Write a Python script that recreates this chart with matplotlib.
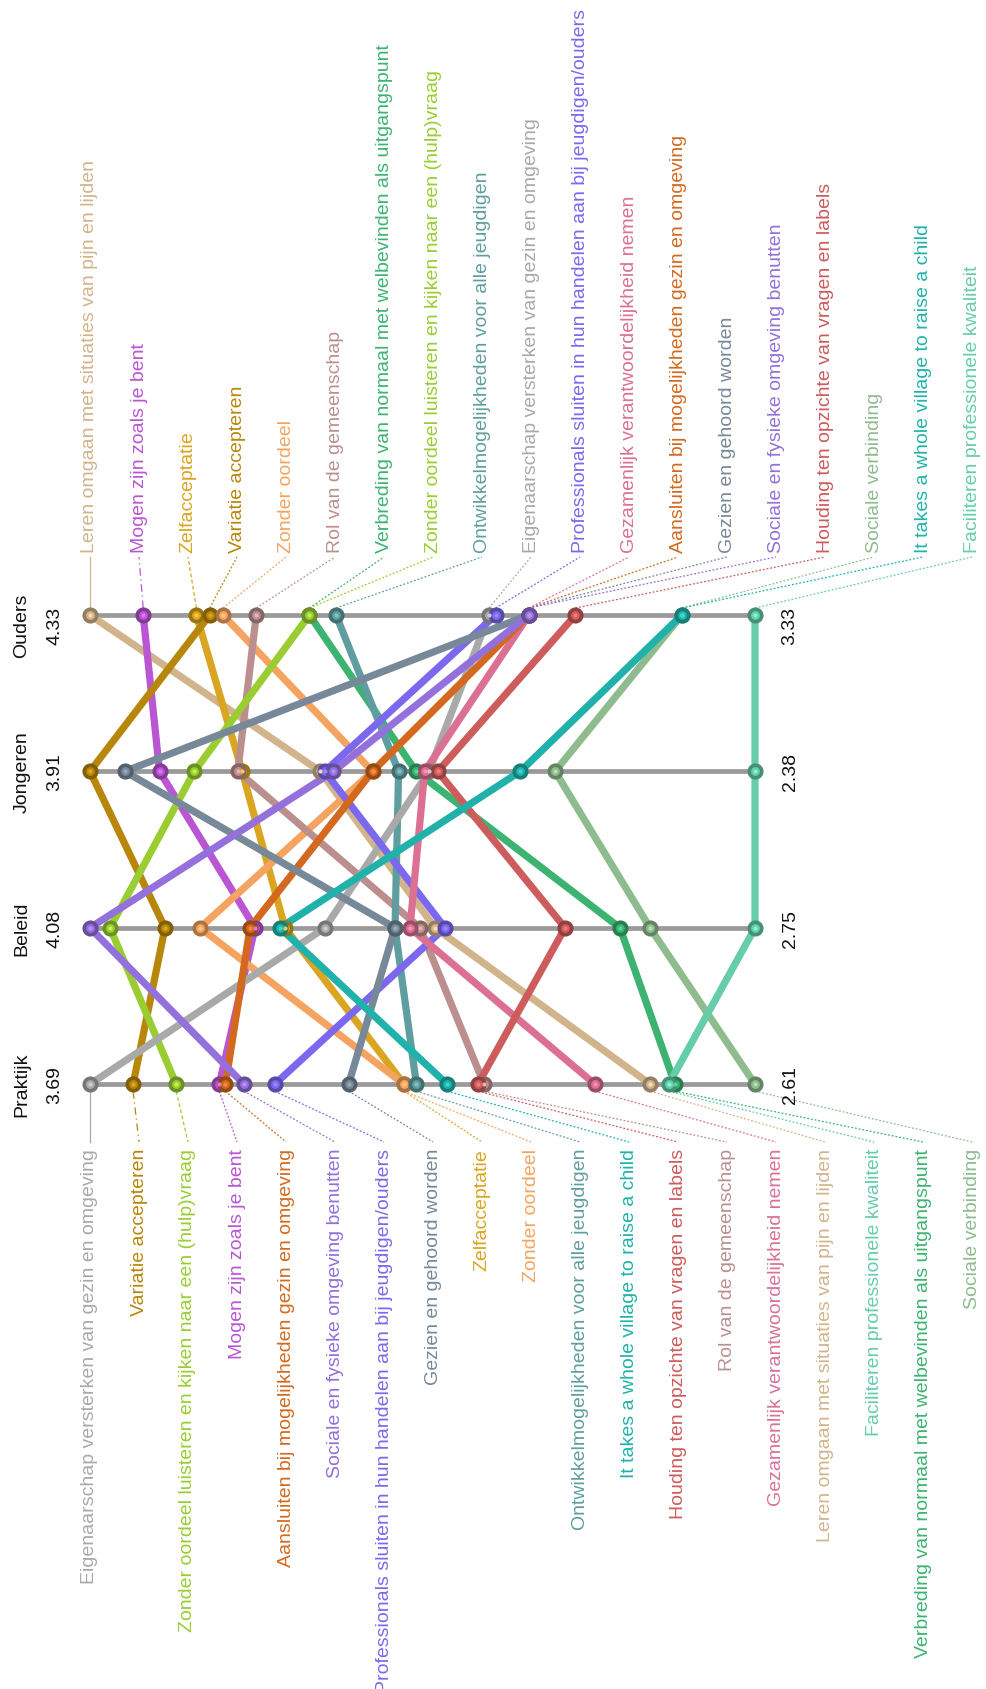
import matplotlib
matplotlib.use("Agg")
import matplotlib.pyplot as plt
import matplotlib.colors as mcolors
import numpy as np

plt.rcParams['font.family'] = ['Liberation Sans', 'DejaVu Sans']

# ---------------- data ----------------
dimensions = ["Ouders", "Jongeren", "Beleid", "Praktijk"]

categories = [
    "Leren omgaan met situaties van pijn en lijden",
    "Mogen zijn zoals je bent",
    "Zelfacceptatie",
    "Variatie accepteren",
    "Zonder oordeel",
    "Rol van de gemeenschap",
    "Verbreding van normaal met welbevinden als uitgangspunt",
    "Zonder oordeel luisteren en kijken naar een (hulp)vraag",
    "Ontwikkelmogelijkheden voor alle jeugdigen",
    "Eigenaarschap versterken van gezin en omgeving",
    "Professionals sluiten in hun handelen aan bij jeugdigen/ouders",
    "Gezamenlijk verantwoordelijkheid nemen",
    "Aansluiten bij mogelijkheden gezin en omgeving",
    "Gezien en gehoord worden",
    "Sociale en fysieke omgeving benutten",
    "Houding ten opzichte van vragen en labels",
    "Sociale verbinding",
    "It takes a whole village to raise a child",
    "Faciliteren professionele kwaliteit",
]

ouders   = [4.33, 4.25, 4.17, 4.15, 4.13, 4.08, 4.00, 4.00, 3.96, 3.73, 3.72, 3.67, 3.67, 3.67, 3.67, 3.60, 3.44, 3.44, 3.33]
jongeren = [3.38, 3.75, 3.56, 3.91, 3.26, 3.57, 3.16, 3.67, 3.20, 3.13, 3.37, 3.14, 3.26, 3.83, 3.35, 3.11, 2.84, 2.92, 2.38]
beleid   = [3.39, 3.75, 3.69, 3.93, 3.86, 3.42, 3.02, 4.04, 3.47, 3.61, 3.37, 3.44, 3.76, 3.47, 4.08, 3.13, 2.96, 3.70, 2.75]
praktijk = [2.78, 3.48, 3.18, 3.62, 3.18, 3.05, 2.74, 3.55, 3.16, 3.69, 3.39, 2.87, 3.47, 3.27, 3.44, 3.06, 2.61, 3.11, 2.75]

colors = [
    "#D2B48C", "#BA55D3", "#DAA520", "#B8860B", "#F4A460", "#BC8F8F",
    "#3CB371", "#9ACD32", "#5F9EA0", "#A9A9A9", "#7B68EE", "#DB7093",
    "#D2691E", "#778899", "#9370DB", "#CD5C5C", "#8FBC8F", "#20B2AA",
    "#66CDAA",
]

series = [ouders, jongeren, beleid, praktijk]

# ---------------- layout (pixels) ----------------
W, H = 986, 1690
X_LEFT, X_RIGHT = 90, 755          # value axis extent
Y_FIRST, Y_STEP = 616, 156.4       # first dimension axis, spacing
LABEL_X0, LABEL_DX = 90, 49.0

def px_x(p):
    return (p - X_LEFT) / (X_RIGHT - X_LEFT)

def px_y(p):
    return (p - Y_FIRST) / Y_STEP

fig = plt.figure(figsize=(W / 100, H / 100), dpi=100)
ax = fig.add_axes([0, 0, 1, 1])
ax.set_xlim(px_x(0), px_x(W))
ax.set_ylim(px_y(H), px_y(0))
ax.axis("off")

# normalised positions: max on the left (0), min on the right (1)
norm = []
for vals in series:
    v = np.array(vals)
    norm.append((v.max() - v) / (v.max() - v.min()))
norm = np.array(norm)        # shape (4, n)
n = len(categories)
ys = np.arange(len(dimensions))

# dimension axis lines
for i in range(len(dimensions)):
    ax.plot([0, 1], [i, i], color="#9a9a9a", lw=3.4, solid_capstyle="butt", zorder=1)

# category lines
for k in range(n):
    ax.plot(norm[:, k], ys, color=colors[k], lw=5.2, solid_capstyle="round", zorder=2)

# points
for k in range(n):
    c = np.array(mcolors.to_rgb(colors[k]))
    dark = c * 0.7
    ax.plot(norm[:, k], ys, linestyle="none", marker="o", ms=9,
            markerfacecolor=c, markeredgecolor=dark, markeredgewidth=2.6, zorder=3)
    ax.plot(norm[:, k], ys, linestyle="none", marker="o", ms=3,
            markerfacecolor=np.minimum(c * 1.1 + 0.08, 1), markeredgecolor="none", zorder=4)

# dimension labels
for i, (name, vals) in enumerate(zip(dimensions, series)):
    off = px_y(Y_FIRST + 10) if i == 0 else 0
    ax.text(px_x(22), i + off, name, rotation=90, ha="center", va="center",
            fontsize=14, color="#111111")
    ax.text(px_x(55), i + off, f"{max(vals):.2f}", rotation=90, ha="center", va="center",
            fontsize=14, color="#111111")
    ax.text(px_x(790), i + off, f"{min(vals):.2f}", rotation=90, ha="center", va="center",
            fontsize=14, color="#111111")

styles = ["solid", (0, (6, 3, 1, 3)), (0, (3, 2)), (0, (1.5, 1.5))]

def leader_style(rank):
    return styles[min(rank, 3)]

# top labels (ordered by first dimension)
order_top = sorted(range(n), key=lambda k: -ouders[k])
for rank, k in enumerate(order_top):
    lx = px_x(LABEL_X0 + rank * LABEL_DX)
    ax.text(lx, px_y(553), categories[k], rotation=90, ha="center", va="bottom",
            fontsize=14, color=colors[k])
    ax.plot([norm[0, k], lx], [px_y(Y_FIRST - 7), px_y(558)], color=colors[k], lw=0.9,
            linestyle=leader_style(rank), zorder=1)

# bottom labels (ordered by last dimension)
order_bot = sorted(range(n), key=lambda k: -praktijk[k])
last = len(dimensions) - 1
for rank, k in enumerate(order_bot):
    lx = px_x(LABEL_X0 + rank * LABEL_DX)
    ax.text(lx, px_y(1149), categories[k], rotation=90, ha="center", va="top",
            fontsize=14, color=colors[k])
    ax.plot([norm[last, k], lx], [last + px_y(Y_FIRST + 7), px_y(1143)], color=colors[k],
            lw=0.9, linestyle=leader_style(rank), zorder=1)

fig.savefig("out.png", dpi=100)
